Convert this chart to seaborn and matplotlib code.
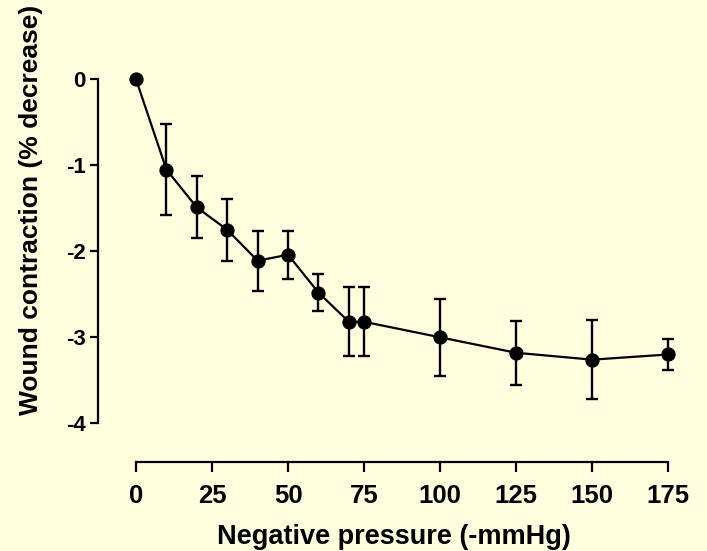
import seaborn as sns
import matplotlib.pyplot as plt
import pandas as pd

# negative pressure (-mmHg) and wound contraction (% decrease), mean +/- error
pressure = [0, 10, 20, 30, 40, 50, 60, 70, 75, 100, 125, 150, 175]
contraction = [0.0, -1.05, -1.49, -1.75, -2.11, -2.04, -2.48, -2.82, -2.82, -3.0, -3.18, -3.26, -3.2]
error = [0.0, 0.53, 0.36, 0.36, 0.35, 0.28, 0.22, 0.40, 0.40, 0.445, 0.37, 0.46, 0.175]
x_ticks = [0, 25, 50, 75, 100, 125, 150, 175]
y_ticks = [0, -1, -2, -3, -4]

df = pd.DataFrame({'pressure': pressure, 'contraction': contraction, 'err': error})

bg = '#FFFFE0'
sns.set_style('ticks')
plt.rcParams['font.family'] = ['Liberation Sans', 'DejaVu Sans']
plt.rcParams['font.weight'] = 'bold'
plt.rcParams['text.color'] = 'black'
plt.rcParams['axes.labelcolor'] = 'black'
plt.rcParams['xtick.color'] = 'black'
plt.rcParams['ytick.color'] = 'black'
plt.rcParams['axes.edgecolor'] = 'black'

fig = plt.figure(figsize=(7.07, 5.51), dpi=100, facecolor=bg)
ax = fig.add_axes([98 / 707, 1 - 462 / 551, 592 / 707, 402 / 551])
ax.set_facecolor(bg)

eb = df[df['err'] > 0]
ax.errorbar(eb['pressure'], eb['contraction'], yerr=eb['err'], fmt='none',
            ecolor='black', elinewidth=1.7, capsize=4.5, capthick=1.7, zorder=2)
sns.lineplot(data=df, x='pressure', y='contraction', ax=ax, color='black',
             linewidth=1.6, marker='o', markersize=9.5, markeredgecolor='black', zorder=3)

ax.set_xlim(-12.5, 182.2)
ax.set_ylim(-4.45, 0.224)
ax.set_xticks(x_ticks)
ax.set_yticks(y_ticks)
ax.set_xticklabels([str(t) for t in x_ticks], fontsize=18.5, fontweight='bold')
ax.set_yticklabels([str(t) for t in y_ticks], fontsize=16, fontweight='bold')
ax.tick_params(axis='x', length=7.5, width=1.6, pad=8.5)
ax.tick_params(axis='y', length=6, width=1.6, pad=3)

for side in ['top', 'right']:
    ax.spines[side].set_visible(False)
ax.spines['left'].set_bounds(-4, 0)
ax.spines['bottom'].set_bounds(0, 175)
ax.spines['left'].set_linewidth(1.6)
ax.spines['bottom'].set_linewidth(1.6)

ax.set_xlabel('Negative pressure (-mmHg)', fontsize=19.5, fontweight='bold', labelpad=11.5)
ax.set_ylabel('Wound contraction (% decrease)', fontsize=19, fontweight='bold')
ax.yaxis.set_label_coords(-0.093, 0.627)

fig.savefig('out.png', dpi=100, facecolor=bg)
